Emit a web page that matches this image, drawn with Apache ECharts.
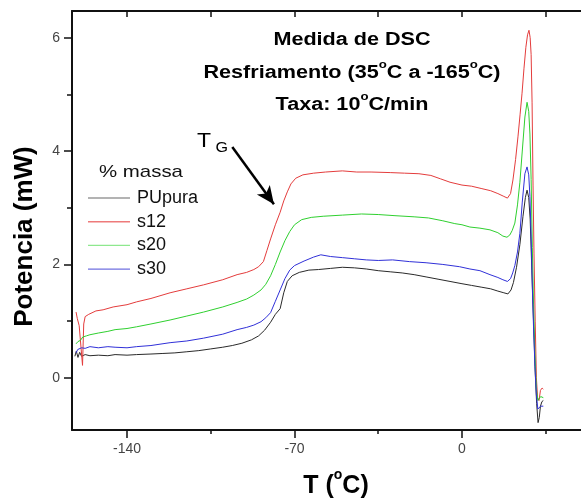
<!DOCTYPE html>
<html><head><meta charset="utf-8">
<script src="https://cdn.jsdelivr.net/npm/echarts@6/dist/echarts.min.js"></script>
<style>html,body{margin:0;padding:0;background:#fff}#c{width:581px;height:498px}</style>
</head><body><div id="c"></div>
<script>
const seriesNames = ['PUpura', 's12', 's20', 's30'];
const xMajorTicks = [-140, -70, 0];
const xMinorTicks = [-105, -35, 35];
const yMajorTicks = [0, 2, 4, 6];
const yMinorTicks = [1, 3, 5];
const titleLines = ['Medida de DSC', 'Resfriamento (35°C a -165°C)', 'Taxa: 10°C/min'];
const arrowFrom = [-96, 4.07];
const arrowTo = [-78.6, 3.06];
const tgAnchor = [-110.8, 4.1];

const pupura = [[-161.8,0.38],[-161.2,0.47],[-160.5,0.36],[-159.8,0.45],[-159,0.38],[-157.5,0.41],[-155.5,0.39],[-152,0.40],[-148,0.39],[-145,0.41],[-140,0.40],[-136,0.41],[-130,0.42],[-125,0.43],[-120,0.44],[-115,0.46],[-110,0.48],[-105,0.51],[-100,0.54],[-96,0.57],[-92,0.61],[-88,0.67],[-85,0.74],[-82.5,0.84],[-80,0.98],[-78,1.12],[-76,1.22],[-74.5,1.50],[-73,1.70],[-71,1.80],[-68,1.86],[-64,1.90],[-60,1.91],[-55,1.93],[-50,1.95],[-45,1.94],[-40,1.92],[-35,1.89],[-30,1.87],[-25,1.85],[-20,1.82],[-15,1.78],[-10,1.74],[-5,1.70],[0,1.66],[4,1.63],[8,1.60],[12,1.57],[15,1.53],[17.5,1.50],[19.2,1.48],[20.5,1.55],[21.5,1.68],[22.8,1.95],[24.2,2.35],[25.5,2.85],[26.5,3.18],[27.2,3.31],[27.9,3.18],[28.5,2.8],[29.2,1.9],[29.9,1.0],[30.6,0.1],[31.2,-0.45],[31.8,-0.79],[32.3,-0.7],[32.8,-0.5],[33.4,-0.42],[34,-0.4]];
const s12 = [[-161.3,1.16],[-160.8,1.05],[-160,0.92],[-159.2,0.95],[-158.6,0.22],[-158.1,0.95],[-157.5,1.08],[-156,1.12],[-153,1.18],[-150,1.20],[-145.8,1.25],[-140,1.29],[-136,1.34],[-130,1.40],[-122,1.50],[-115,1.57],[-108,1.64],[-100,1.73],[-94,1.82],[-90,1.86],[-87,1.91],[-85,1.96],[-83,2.05],[-81.5,2.25],[-80,2.45],[-78,2.70],[-76,2.92],[-74.5,3.12],[-73,3.28],[-71.5,3.42],[-69.5,3.52],[-66.5,3.58],[-62,3.61],[-57,3.63],[-50,3.65],[-44,3.63],[-38,3.63],[-30,3.62],[-24,3.61],[-18,3.60],[-13,3.57],[-9,3.51],[-5,3.45],[0,3.40],[4,3.38],[8,3.34],[12,3.30],[15,3.25],[17.5,3.20],[19,3.17],[20.3,3.25],[21.3,3.49],[22.4,3.85],[23.4,4.25],[24.3,4.65],[25.1,5.02],[25.9,5.45],[26.7,5.83],[27.4,6.05],[28,6.13],[28.5,6.0],[28.9,5.7],[29.3,4.85],[29.7,3.4],[30.1,2.2],[30.6,1.0],[31.1,0.0],[31.6,-0.35],[32.2,-0.4],[32.8,-0.22],[33.5,-0.18],[34,-0.2]];
const s20 = [[-161.3,0.60],[-160.5,0.64],[-159.5,0.66],[-158.5,0.72],[-157,0.74],[-155.5,0.76],[-152,0.79],[-148,0.82],[-145,0.85],[-140,0.87],[-136,0.90],[-130,0.95],[-122,1.02],[-115,1.09],[-108,1.16],[-100,1.25],[-94,1.33],[-90,1.39],[-87,1.46],[-84,1.55],[-82,1.65],[-80,1.80],[-78,2.00],[-76,2.22],[-74,2.42],[-72,2.58],[-70,2.70],[-67,2.79],[-63,2.83],[-58,2.85],[-50,2.87],[-42,2.89],[-35,2.88],[-28,2.86],[-20,2.84],[-14,2.82],[-8,2.77],[-3,2.72],[0,2.70],[3.3,2.66],[7.5,2.64],[11.7,2.61],[15,2.56],[17.1,2.50],[18.8,2.48],[20,2.52],[21,2.60],[22.1,2.73],[23.2,3.05],[24.2,3.45],[25.2,4.0],[26.3,4.6],[27.2,4.86],[27.9,4.7],[28.4,4.3],[28.9,3.5],[29.4,2.3],[29.9,1.3],[30.5,0.4],[31.1,-0.2],[31.7,-0.4],[32.3,-0.38],[32.9,-0.33],[33.6,-0.31],[34,-0.35]];
const s30 = [[-161.3,0.44],[-160.6,0.50],[-159.8,0.47],[-159,0.53],[-157.5,0.52],[-155.5,0.55],[-152,0.53],[-148,0.55],[-145,0.54],[-140,0.53],[-136,0.55],[-130,0.57],[-122,0.62],[-115,0.65],[-108,0.70],[-100,0.77],[-94,0.85],[-90,0.89],[-87,0.93],[-84,0.99],[-82,1.06],[-80,1.15],[-78,1.35],[-76,1.55],[-74,1.75],[-72,1.90],[-70,1.98],[-66,2.06],[-62,2.13],[-59,2.17],[-55,2.14],[-50,2.12],[-45,2.10],[-40,2.08],[-35,2.07],[-29,2.08],[-22,2.05],[-15,2.03],[-8,2.00],[-1,1.96],[3.3,1.92],[7.5,1.89],[11.7,1.82],[15,1.77],[17.1,1.73],[19,1.70],[20.3,1.75],[21.2,1.85],[22.1,1.98],[23.2,2.22],[24.2,2.55],[25.2,3.1],[26.3,3.6],[27.2,3.72],[27.9,3.58],[28.4,3.2],[28.9,2.5],[29.4,1.6],[29.9,0.9],[30.5,0.2],[31.1,-0.3],[31.7,-0.55],[32.3,-0.58],[32.9,-0.5],[33.5,-0.52],[34,-0.5]];

const seriesData = [pupura, s12, s20, s30];
const lineColors = ['#2a2a2a', '#e43c3c', '#2fd02f', '#3030d8'];
const legendColors = ['#9a9a9a', '#ee7a7a', '#8ee88e', '#7070e0'];

const FONT = "'Liberation Sans', Arial, sans-serif";
const chart = echarts.init(document.getElementById('c'), null, {renderer: 'canvas'});

const xRange = {min: -163, max: 51};
const yRange = {min: -0.92, max: 6.47};

function xAxisDef(pos, ticks, len, inside, showLine, showLabels) {
  return {
    type: 'value', position: pos, min: xRange.min, max: xRange.max,
    splitLine: {show: false},
    axisLine: {show: showLine, onZero: false, lineStyle: {color: '#111', width: 2}},
    axisTick: {show: true, inside: inside, length: len, customValues: ticks, lineStyle: {color: '#111', width: 1.5}},
    axisLabel: showLabels ? {show: true, customValues: ticks, color: '#444', fontSize: 14, fontFamily: FONT, margin: 12} : {show: false}
  };
}
function yAxisDef(ticks, len, showLine, showLabels) {
  return {
    type: 'value', position: 'left', min: yRange.min, max: yRange.max,
    splitLine: {show: false},
    axisLine: {show: showLine, onZero: false, lineStyle: {color: '#111', width: 2}},
    axisTick: {show: true, length: len, customValues: ticks, lineStyle: {color: '#111', width: 1.5}},
    axisLabel: showLabels ? {show: true, customValues: ticks, color: '#444', fontSize: 14, fontFamily: FONT, margin: 12} : {show: false}
  };
}

const xMain = xAxisDef('bottom', xMajorTicks, 8, false, true, true);
xMain.name = '{n|T (}{s|o}{n|C)}';
xMain.nameLocation = 'middle';
xMain.nameGap = 38;
xMain.nameTextStyle = {padding: [0, 0, 0, 16], rich: {
  n: {fontSize: 25, fontWeight: 'bold', fontFamily: FONT, color: '#000'},
  s: {fontSize: 14, fontWeight: 'bold', fontFamily: FONT, color: '#000', padding: [0, 0, 22, 0]}}};

const yMain = yAxisDef(yMajorTicks, 8, true, true);
yMain.name = 'Potencia (mW)';
yMain.nameLocation = 'middle';
yMain.nameGap = 34;
yMain.nameTextStyle = {fontSize: 26, fontWeight: 'bold', fontFamily: FONT, color: '#000', padding: [0, 32, 0, 0]};

const option = {
  animation: false,
  backgroundColor: '#fff',
  grid: {left: 72, right: -3, top: 11, bottom: 68, containLabel: false, outerBoundsMode: 'none'},
  xAxis: [
    xMain,
    xAxisDef('bottom', xMinorTicks, 4, false, false, false),
    xAxisDef('top', xMajorTicks.concat(xMinorTicks), 6, true, true, false)
  ],
  yAxis: [
    yMain,
    yAxisDef(yMinorTicks, 5, false, false)
  ],
  legend: {
    orient: 'vertical', left: 83, top: 184,
    itemWidth: 42, itemHeight: 14, itemGap: 5.7,
    symbolKeepAspect: true,
    textStyle: {fontSize: 18, fontFamily: FONT, color: '#111', lineHeight: 14, padding: [0, 0, 0, 2]},
    data: seriesNames.map((n, i) => ({name: n, icon: 'path://M0,0 L42,0 L42,1.4 L0,1.4 Z', itemStyle: {color: legendColors[i], borderWidth: 0}}))
  },
  series: seriesNames.map((n, i) => ({
    name: n, type: 'line', data: seriesData[i], showSymbol: false, symbol: 'none',
    xAxisIndex: 0, yAxisIndex: 0,
    lineStyle: {color: lineColors[i], width: 1},
    itemStyle: {color: lineColors[i]},
    z: 2,
    markLine: i === 0 ? {
      silent: true, symbol: ['none', 'arrow'], symbolSize: [12, 18],
      lineStyle: {color: '#000', width: 2.5, type: 'solid'},
      label: {show: false},
      data: [[{coord: arrowFrom}, {coord: arrowTo}]]
    } : undefined
  }))
};
chart.setOption(option);

// free text annotations
const boldRich = (sz) => ({
  n: {fontSize: sz, fontWeight: 'bold', fontFamily: FONT, fill: '#000'},
  s: {fontSize: Math.round(sz * 0.62), fontWeight: 'bold', fontFamily: FONT, fill: '#000', padding: [0, 0, 17, 0]}
});
function supText(t) {
  return t.split('°').map((p, i) => (i > 0 ? '{s|o}' : '') + (p ? '{n|' + p + '}' : '')).join('');
}
const titleY = [40, 73, 105];
const graphics = titleLines.map((t, i) => ({
  type: 'text', x: 352, y: titleY[i], scaleX: 1.2, silent: true,
  style: {text: supText(t), rich: boldRich(18), align: 'center', verticalAlign: 'middle'}
}));
const tgPos = chart.convertToPixel({xAxisIndex: 0, yAxisIndex: 0}, tgAnchor);
graphics.push({
  type: 'text', x: tgPos[0], y: tgPos[1], scaleX: 1.15, silent: true,
  style: {text: '{t|T}{g|G}', align: 'left', verticalAlign: 'middle',
    rich: {t: {fontSize: 20, fontFamily: FONT, fill: '#000', padding: [0, 0, 8, 0]},
           g: {fontSize: 14, fontFamily: FONT, fill: '#000', padding: [6, 0, 0, 4]}}}
});
graphics.push({
  type: 'text', x: 141, y: 172, scaleX: 1.2, silent: true,
  style: {text: '% massa', font: '17px ' + FONT, fill: '#111', align: 'center', verticalAlign: 'middle'}
});
chart.setOption({graphic: graphics});
</script>
</body></html>
